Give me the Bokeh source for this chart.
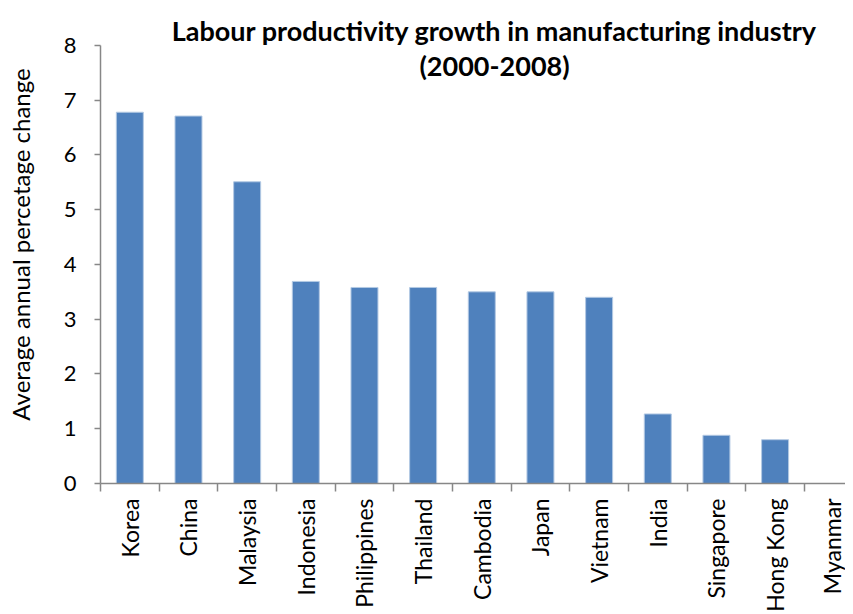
import math
from bokeh.plotting import figure
from bokeh.models import Range1d, FixedTicker, Label, ColumnDataSource
from bokeh.embed import file_html
from bokeh.resources import INLINE

countries = ["Korea", "China", "Malaysia", "Indonesia", "Philippines", "Thailand",
             "Cambodia", "Japan", "Vietnam", "India", "Singapore", "Hong Kong", "Myanmar"]
growth = [6.78, 6.71, 5.51, 3.69, 3.58, 3.58, 3.50, 3.50, 3.40, 1.27, 0.88, 0.80, 0.0]
y_ticks = [0, 1, 2, 3, 4, 5, 6, 7, 8]

title_line1 = "Labour productivity growth in manufacturing industry"
title_line2 = "(2000-2008)"
y_title = "Average annual percetage change"

FONT = "Lato"
AXIS_COLOR = "#878787"

pos = [i + 0.5 for i in range(len(countries))]
src = ColumnDataSource(dict(x=pos, top=growth, name=countries))

p = figure(width=845, height=614, output_backend="svg", toolbar_location=None,
           x_range=Range1d(0, 12.7), y_range=Range1d(0, 8.729),
           min_border_left=100, min_border_right=0, min_border_top=5,
           min_border_bottom=0)
p.outline_line_color = None
p.xgrid.visible = False
p.ygrid.visible = False
p.background_fill_color = "white"
p.border_fill_color = "white"

p.vbar(x="x", top="top", width=0.46, source=src,
       fill_color="#4F81BD", line_color="#B3C9E3", line_width=1)

# x axis
xa = p.xaxis[0]
xa.ticker = FixedTicker(ticks=pos, minor_ticks=list(range(len(countries) + 1)))
xa.major_label_overrides = {x: c for x, c in zip(pos, countries)}
xa.major_label_orientation = math.pi / 2
xa.major_tick_line_color = None
xa.major_tick_out = 0
xa.major_tick_in = 0
xa.minor_tick_line_color = AXIS_COLOR
xa.minor_tick_line_width = 1.5
xa.minor_tick_out = 8
xa.minor_tick_in = 0
xa.axis_line_color = AXIS_COLOR
xa.axis_line_width = 1.5
xa.major_label_standoff = 7
xa.major_label_text_font = FONT
xa.major_label_text_font_size = "23px"
xa.major_label_text_color = "black"

# y axis
ya = p.yaxis[0]
ya.ticker = FixedTicker(ticks=y_ticks)
ya.bounds = (0, 8)
ya.minor_tick_line_color = None
ya.major_tick_out = 6
ya.major_tick_in = 0
ya.major_tick_line_color = AXIS_COLOR
ya.major_tick_line_width = 1.5
ya.axis_line_color = AXIS_COLOR
ya.axis_line_width = 1.5
ya.major_label_standoff = 18
ya.major_label_text_font = FONT
ya.major_label_text_font_size = "22px"
ya.major_label_text_color = "black"
ya.axis_label = y_title
ya.axis_label_text_font = FONT
ya.axis_label_text_font_size = "24px"
ya.axis_label_text_font_style = "normal"
ya.axis_label_text_color = "black"
ya.axis_label_standoff = 26

p.add_layout(Label(x=6.717, y=8.273, text=title_line1, text_align="center",
                   text_baseline="middle", text_font=FONT, text_font_style="bold",
                   text_font_size="27px", text_color="black"))
p.add_layout(Label(x=6.717, y=7.636, text=title_line2, text_align="center",
                   text_baseline="middle", text_font=FONT, text_font_style="bold",
                   text_font_size="27px", text_color="black"))

open("out.html", "w").write(file_html(p, INLINE))
